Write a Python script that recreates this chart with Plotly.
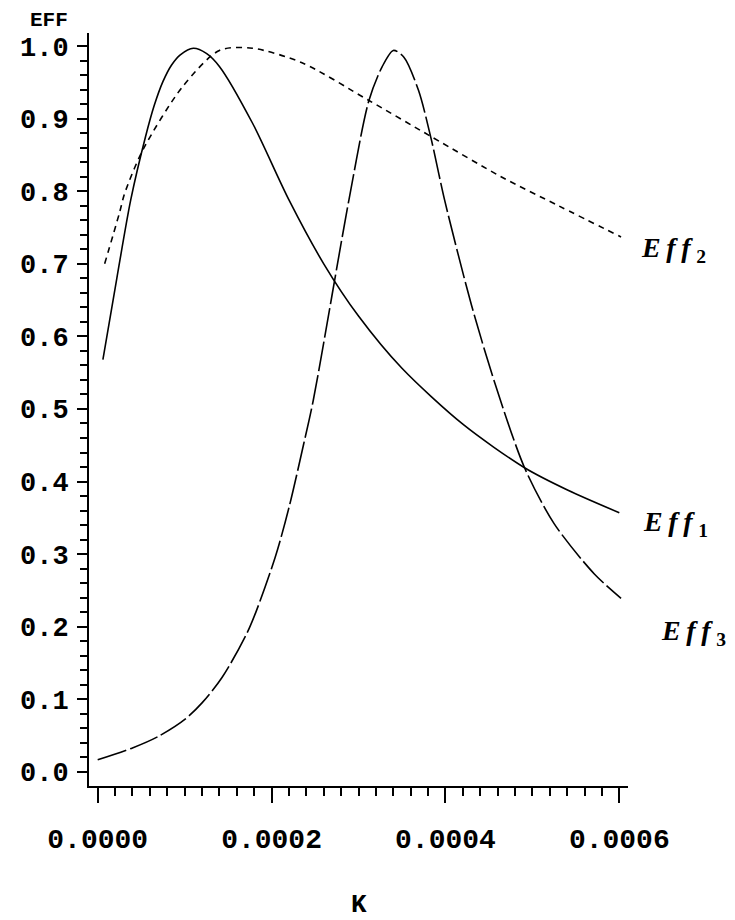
import plotly.graph_objects as go

# K values and efficiencies
k_eff1 = [0.000006, 0.000022, 0.000038, 0.000055, 0.000065, 0.000075, 0.000085,
          0.000095, 0.000110, 0.000125, 0.000140, 0.000178, 0.000220, 0.000260,
          0.000300, 0.000350, 0.000420, 0.000491, 0.000541, 0.000600]
eff1 = [0.568, 0.680, 0.788, 0.875, 0.918, 0.951, 0.974, 0.988, 0.997, 0.990,
        0.972, 0.894, 0.788, 0.700, 0.628, 0.556, 0.479, 0.419, 0.388, 0.357]

k_eff2 = [0.000008, 0.000025, 0.000031, 0.000052, 0.000097, 0.000140, 0.000178,
          0.000235, 0.000312, 0.000384, 0.000464, 0.000530, 0.000602]
eff2 = [0.700, 0.770, 0.797, 0.857, 0.943, 0.994, 0.997, 0.977, 0.925, 0.875,
        0.820, 0.780, 0.737]

k_eff3 = [0.000000, 0.000040, 0.000070, 0.000101, 0.000120, 0.000143, 0.000174,
          0.000204, 0.000220, 0.000237, 0.000248, 0.000289, 0.000312, 0.000327,
          0.000340, 0.000352, 0.000369, 0.000384, 0.000399, 0.000430, 0.000457,
          0.000491, 0.000525, 0.000571, 0.000602]
eff3 = [0.0166, 0.033, 0.049, 0.073, 0.095, 0.130, 0.197, 0.295, 0.364, 0.452,
        0.512, 0.788, 0.925, 0.971, 0.994, 0.985, 0.939, 0.870, 0.788, 0.643,
        0.535, 0.419, 0.342, 0.273, 0.239]

x_ticks = [0.0, 0.0002, 0.0004, 0.0006]
y_ticks = [0.0, 0.1, 0.2, 0.3, 0.4, 0.5, 0.6, 0.7, 0.8, 0.9, 1.0]

fig = go.Figure()
line_w = 1.6
smooth = 0.8
fig.add_trace(go.Scatter(x=k_eff1, y=eff1, mode="lines", name="Eff1",
                         line=dict(color="black", width=line_w, shape="spline",
                                   smoothing=smooth)))
fig.add_trace(go.Scatter(x=k_eff2, y=eff2, mode="lines", name="Eff2",
                         line=dict(color="black", width=line_w, dash="6px,5px",
                                   shape="spline", smoothing=smooth)))
fig.add_trace(go.Scatter(x=k_eff3, y=eff3, mode="lines", name="Eff3",
                         line=dict(color="black", width=line_w, dash="30px,4px",
                                   shape="spline", smoothing=smooth)))

mono = "Liberation Mono"
# the page body adds an 8px offset, so the figure is 8px smaller than the window
fig.update_layout(
    width=727, height=912,
    margin=dict(l=78, r=107, t=25, b=134),
    paper_bgcolor="white", plot_bgcolor="white",
    showlegend=False,
    xaxis=dict(range=[-0.00001, 0.00061], tickvals=x_ticks, tickformat=".4f",
               showgrid=False, zeroline=False, showline=True, linecolor="black",
               linewidth=2, ticks="outside", ticklen=15, tickwidth=1.5,
               tickcolor="black", ticklabelstandoff=11,
               tickfont=dict(family=mono, size=28, color="black", weight="bold"),
               minor=dict(dtick=0.00002, ticks="outside", ticklen=8, tickwidth=1.5,
                          tickcolor="black", showgrid=False)),
    yaxis=dict(range=[-0.0195, 1.018], tickvals=y_ticks, tickformat=".1f",
               showgrid=False, zeroline=False, showline=True, linecolor="black",
               linewidth=2, ticks="outside", ticklen=10, tickwidth=1.5,
               tickcolor="black", ticklabelstandoff=3,
               tickfont=dict(family=mono, size=27, color="black", weight="bold"),
               minor=dict(dtick=0.02, ticks="outside", ticklen=7, tickwidth=1.5,
                          tickcolor="black", showgrid=False)),
)

serif = "Liberation Serif"
lab = "<b><i>E\u2009f\u2009f</i></b>\u2009<sub><b>{}</b></sub>"
annos = [
    dict(text="<b>EFF</b>", x=-0.0738, y=1.0332, yanchor="top",
         font=dict(family=mono, size=21)),
    dict(text="<b>K</b>", x=0.5, y=-0.158, font=dict(family=mono, size=26)),
    dict(text=lab.format(2), x=1.022, y=0.712, xanchor="left",
         font=dict(family=serif, size=28)),
    dict(text=lab.format(1), x=1.026, y=0.349, xanchor="left",
         font=dict(family=serif, size=28)),
    dict(text=lab.format(3), x=1.060, y=0.2045, xanchor="left",
         font=dict(family=serif, size=28)),
]
for a in annos:
    a.setdefault("xanchor", "center")
    a.setdefault("yanchor", "middle")
    a["font"]["color"] = "black"
    fig.add_annotation(xref="paper", yref="paper", showarrow=False,
                       borderpad=0, **a)

fig.write_html("out.html")
